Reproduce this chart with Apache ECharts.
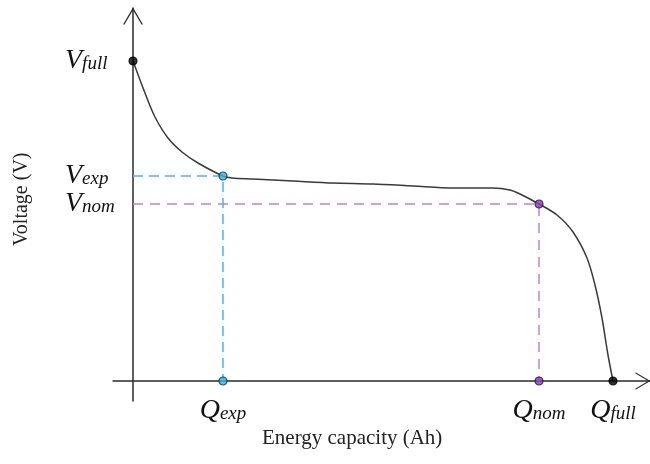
<!DOCTYPE html>
<html>
<head>
<meta charset="utf-8">
<style type="text/css">
html, body { margin: 0; padding: 0; background: #fff; }
#chart { width: 650px; height: 464px; }
</style>
<script type="text/javascript" src="https://cdn.jsdelivr.net/npm/echarts@6/dist/echarts.min.js"></script>
</head>
<body>
<div id="chart"></div>
<script type="text/javascript">
// discharge curve, capacity vs voltage (arbitrary units)
var curveQ = [0, 12, 22, 35, 49, 65, 90, 99, 120, 160, 200, 240, 280, 320, 360, 377, 387, 406, 424, 440, 454, 462, 469, 475, 480];
var curveV = [320, 288, 264, 243, 229, 218, 205, 203, 202, 200, 198, 197, 195, 193, 193, 191, 187, 177, 166, 149, 123, 96, 63, 26, 0];

var qExp = 90, qNom = 406, qFull = 480;
var vFull = 320, vExp = 205, vNom = 177;

var xTicks = [qExp, qNom, qFull];
var xTickNames = ['exp', 'nom', 'full'];
var yTicks = [vFull, vExp, vNom];
var yTickNames = ['full', 'exp', 'nom'];

var axisColor = '#2b2b2b', blue = '#45b6e6', purple = '#c27fd6';
var arrow = 'path://M0,17 L10,0 L20,17 L18.5,17 L10,2.6 L1.5,17 Z';

var chart = echarts.init(document.getElementById('chart'));

function pairs(xs, ys) {
	var out = [];
	for (var i = 0; i < xs.length; i++) {
		out.push([xs[i], ys[i]]);
	}
	return out;
}

var sub = {
	v: { fontFamily: 'Liberation Serif', fontStyle: 'italic', fontSize: 28, lineHeight: 24, color: '#111' },
	s: { fontFamily: 'Liberation Serif', fontStyle: 'italic', fontSize: 19, lineHeight: 12, color: '#111', verticalAlign: 'bottom' }
};

function dot(color, border) {
	return { color: color, borderColor: border, borderWidth: 1.2 };
}

chart.setOption({
	animation: false,
	grid: { left: 113, right: 0, top: 8, bottom: 63, outerBoundsMode: 'none' },
	xAxis: {
		type: 'value', min: -20, max: 517,
		splitLine: { show: false },
		axisTick: { show: false },
		axisLine: {
			onZero: true,
			symbol: ['none', arrow], symbolSize: [18, 15], symbolOffset: [0, -7],
			lineStyle: { color: axisColor, width: 1.5 }
		},
		axisLabel: {
			customValues: xTicks, margin: -2, verticalAlign: 'top', rich: sub, hideOverlap: false,
			formatter: function (v) {
				return '{v|Q}{s|' + xTickNames[xTicks.indexOf(v)] + '}';
			}
		}
	},
	yAxis: {
		type: 'value', min: -20, max: 373,
		splitLine: { show: false },
		axisTick: { show: false },
		axisLine: {
			onZero: true,
			symbol: ['none', arrow], symbolSize: [20, 17], symbolOffset: [0, -8],
			lineStyle: { color: axisColor, width: 1.5 }
		},
		axisLabel: {
			customValues: yTicks, margin: 48, align: 'left', rich: sub, hideOverlap: false,
			formatter: function (v) {
				return '{v|V}{s|' + yTickNames[yTicks.indexOf(v)] + '}';
			}
		}
	},
	graphic: [
		{ type: 'text', left: 262, top: 428,
			style: { text: 'Energy capacity (Ah)', font: '21px "Liberation Serif"', fill: '#222' } },
		{ type: 'text', x: 12, y: 246, rotation: Math.PI / 2,
			style: { text: 'Voltage (V)', font: '20px "Liberation Serif"', fill: '#222' } }
	],
	series: [
		{
			type: 'line', data: [[0, vExp], [qExp, vExp], [qExp, 0]],
			symbol: 'none', lineStyle: { color: blue, width: 1.5, type: [10, 6] }
		},
		{
			type: 'line', data: [[0, vNom], [qNom, vNom], [qNom, 0]],
			symbol: 'none', lineStyle: { color: purple, width: 1.5, type: [10, 7] }
		},
		{
			type: 'line', data: pairs(curveQ, curveV), smooth: 0.3,
			symbol: 'none', lineStyle: { color: '#3a3a3a', width: 1.5 }
		},
		{
			type: 'scatter', symbolSize: 8, z: 5,
			data: [
				{ value: [0, vFull], itemStyle: dot('#000', '#000') },
				{ value: [qFull, 0], itemStyle: dot('#000', '#000') },
				{ value: [qExp, vExp], itemStyle: dot('#3fb0e0', '#123040') },
				{ value: [qExp, 0], itemStyle: dot('#3fb0e0', '#123040') },
				{ value: [qNom, vNom], itemStyle: dot('#8a3fb8', '#2a1036') },
				{ value: [qNom, 0], itemStyle: dot('#8a3fb8', '#2a1036') }
			]
		}
	]
});
</script>
</body>
</html>
